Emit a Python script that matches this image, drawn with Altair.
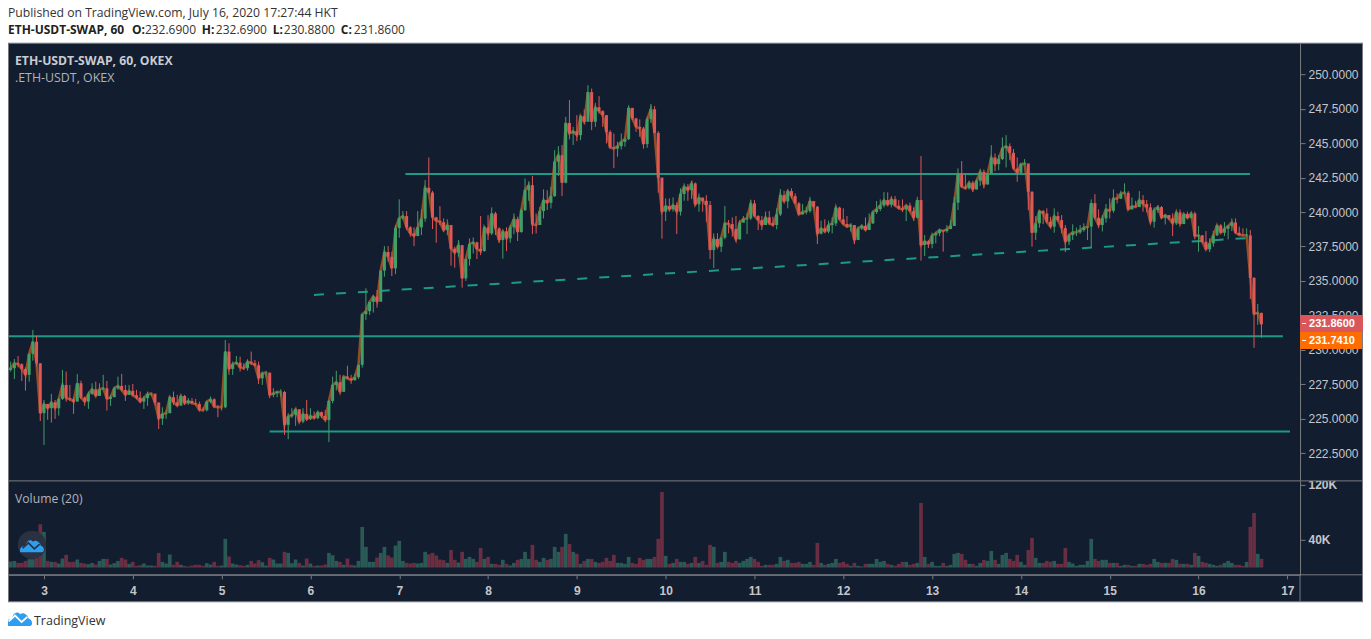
import altair as alt
import pandas as pd

# hourly candles, first one at 14:00 on the 2nd
closes = [
228.55,228.67,229.03,228.96,228.62,228.19,229.71,230.6,229.03,225.41,
226.08,225.77,226.2,225.77,226.45,227.46,226.5,226.42,226.25,227.58,
226.54,226.25,226.81,227.15,226.66,227.15,227.22,226.45,226.57,227.22,
227.39,227.1,226.74,227.03,226.71,226.54,226.25,226.5,226.81,226.83,
226.18,225.02,225.36,225.41,226.57,226.2,225.96,226.66,226.13,226.3,
226.13,226.08,225.65,225.63,226.25,226.42,225.89,225.84,225.84,229.88,
228.62,228.98,229.08,228.72,228.67,229.15,229.03,228.89,227.94,228.31,
228.35,226.74,226.86,226.95,226.95,224.56,225.19,225.29,225.7,224.8,
225.36,224.97,225.22,225.05,225.48,225.22,224.92,226.3,227.46,227.66,
226.96,228.07,227.93,227.81,228.02,228.92,232.59,232.81,233.48,233.87,
233.5,235.75,237.1,236.76,235.92,238.84,239.56,239.71,238.89,238.45,
238.26,238.89,239.52,241.76,241.42,239.61,239.37,239.27,238.69,239.06,
237.34,237.05,237.6,235.19,236.59,237.68,237.8,237.32,237.17,238.89,
238.45,239.9,238.82,237.97,238.6,238.09,238.89,239.49,238.55,240.14,
241.59,241.95,239.1,239.06,240.07,240.87,240.67,241.16,243.65,244.13,
242.13,246.47,245.7,245.87,245.58,246.96,246.55,248.7,246.55,247.6,
247.32,247.03,245.82,244.69,244.6,244.78,245.1,245.29,247.56,246.79,
246.18,246.06,244.93,246.74,247.46,245.75,242.49,240.03,240.44,240.2,
240.51,240.03,241.31,241.84,241.59,242.08,240.56,241.04,240.82,240.51,
237.25,238.05,237.49,238.14,239.18,239.13,238.77,238.02,239.23,239.5,
239.54,240.63,239.71,239.42,239.06,239.62,239.18,239.06,239.83,241.23,
240.77,241.52,241.16,240.63,239.83,240.0,240.07,240.8,240.39,238.43,
238.82,238.58,239.06,239.18,240.32,239.47,239.13,238.94,239.06,237.97,
238.82,239.0,238.7,239.18,240.0,240.22,240.48,240.87,240.53,240.94,
240.46,240.27,240.19,240.48,240.07,239.59,240.87,237.61,237.88,237.68,
238.31,238.46,238.7,238.62,238.77,238.99,240.68,242.8,241.84,241.72,
242.13,241.64,242.27,242.92,242.0,242.8,243.96,243.48,243.84,244.64,
244.78,244.3,243.16,242.85,243.48,243.53,241.47,238.5,239.18,240.07,
239.9,239.3,238.94,239.71,239.42,238.84,237.85,238.33,238.53,238.53,
238.7,238.87,238.94,240.65,239.59,239.06,239.54,240.19,240.1,240.99,
240.97,241.35,241.4,240.19,240.43,240.36,240.87,240.58,240.34,239.3,
240.15,240.36,239.59,239.78,239.54,239.18,239.98,239.13,239.86,239.57,
239.9,238.26,238.31,237.85,237.3,237.73,238.31,239.03,238.5,238.79,
238.99,239.25,238.5,238.33,238.31,238.31,235.22,232.61,232.69,231.86]

highs = [
228.79,229.15,229.34,229.56,229.03,228.74,229.75,231.45,231.01,229.03,
226.37,226.08,226.81,226.37,226.5,228.55,228.43,227.46,226.57,228.24,
227.77,226.62,226.98,227.58,227.7,227.58,228.19,227.75,226.74,227.34,
228.06,228.26,227.46,227.46,227.53,227.1,226.98,226.66,226.98,226.91,
226.81,226.2,225.84,225.6,226.66,226.98,226.74,226.74,226.74,226.5,
226.5,226.45,226.25,225.84,226.3,226.62,226.5,226.01,226.06,230.72,
230.48,229.15,229.56,229.51,229.03,229.32,229.88,229.27,229.15,228.43,
228.48,228.35,227.22,227.05,227.15,227.03,225.41,225.77,225.77,225.6,
225.77,226.37,225.77,225.53,225.6,225.53,225.65,226.37,228.06,228.48,
228.19,228.07,228.85,228.19,228.27,228.92,232.59,234.47,233.48,233.99,
234.35,235.75,237.53,237.53,237.13,239.06,240.92,240.07,240.07,238.98,
238.89,240.07,240.19,242.32,243.96,241.54,239.66,240.43,239.54,239.47,
239.06,237.49,237.97,237.6,236.64,238.09,238.16,237.85,239.71,238.98,
239.78,240.34,240.02,238.89,238.69,238.89,239.06,239.9,239.66,240.26,
242.44,242.24,242.63,239.9,240.38,241.64,241.59,241.83,244.49,244.78,
244.86,246.91,248.12,246.18,247.03,247.03,247.44,249.2,248.96,247.92,
248.41,247.39,247.03,245.94,245.7,245.1,245.7,245.41,247.75,247.54,
246.84,246.72,246.18,246.91,247.83,247.68,245.87,242.52,240.99,240.99,
241.07,240.7,241.72,242.08,242.03,242.25,242.15,241.35,241.07,241.23,
240.8,238.46,238.46,238.2,240.44,239.42,239.61,239.71,239.42,239.71,
239.95,240.87,240.87,239.78,239.71,240.03,240.07,239.66,240.27,241.67,
241.55,241.64,241.72,241.35,240.73,240.58,240.39,241.11,240.75,240.44,
239.37,239.47,239.37,239.61,240.44,240.39,240.27,239.71,239.18,239.06,
238.94,239.11,239.61,239.9,240.1,240.8,240.92,241.45,241.43,241.16,
241.16,240.87,240.92,240.51,240.68,240.34,241.11,244.06,238.33,237.97,
238.5,238.58,238.79,238.7,239.06,239.42,241.11,243.17,243.7,242.75,
242.27,242.27,242.37,243.09,243.09,242.85,244.85,244.25,244.13,245.41,
245.58,244.98,244.57,243.96,243.57,243.84,243.48,241.52,239.71,240.15,
240.15,240.27,239.66,240.27,240.03,239.78,239.06,238.46,239.11,238.87,
239.06,239.18,238.99,240.92,241.3,240.19,239.78,240.58,240.99,241.64,
241.35,241.55,242.08,241.52,241.06,240.82,241.52,241.23,240.87,240.63,
240.34,240.51,240.44,239.86,239.78,239.9,240.1,240.19,239.9,240.03,
240.03,240.03,238.99,238.33,238.62,238.09,238.65,239.08,239.13,239.28,
239.06,239.54,239.54,238.94,238.82,238.82,238.7,235.29,233.34,232.69]

lows = [
228.5,228.43,227.89,228.74,227.75,227.05,227.7,229.22,228.84,224.85,
223.11,224.93,224.73,225.0,225.24,226.37,226.25,226.3,225.36,226.37,
226.45,225.94,225.72,226.74,226.62,226.71,227.1,225.6,225.94,226.57,
227.1,226.98,226.3,226.74,226.62,226.42,226.13,225.72,225.94,226.66,
226.01,224.27,224.56,225.0,225.41,226.01,225.89,225.94,226.01,226.01,
226.06,225.96,225.53,225.53,225.53,226.13,225.77,225.12,225.6,225.77,
228.19,228.19,228.91,228.43,228.55,228.5,228.91,228.79,227.53,227.46,
228.06,226.5,226.57,226.57,226.62,223.84,223.52,225.05,224.49,224.68,
224.68,224.85,224.92,224.97,224.97,225.05,224.8,223.31,226.13,227.06,
226.86,226.96,227.9,227.54,227.76,227.9,228.72,232.18,232.54,232.71,
233.07,233.5,235.31,236.4,235.36,235.5,238.14,239.42,238.69,238.21,
237.53,238.26,238.33,239.3,241.35,238.77,237.78,239.06,238.57,238.33,
236.11,235.97,236.76,234.52,235.0,236.11,237.0,236.59,236.88,237.13,
237.97,238.33,238.33,237.78,236.62,237.17,237.78,238.4,237.9,238.5,
240.07,240.82,238.4,238.45,239.18,239.54,240.14,240.26,241.1,242.61,
241.16,242.08,245.27,244.86,245.15,245.22,246.38,246.6,245.94,246.18,
247.15,246.18,244.98,244.6,243.19,244.01,244.54,244.74,245.22,246.67,
245.82,245.46,244.6,244.66,246.47,245.7,241.4,238.07,239.35,240.03,
240.03,238.41,239.74,240.82,240.82,240.94,240.46,240.03,240.03,239.3,
236.6,235.94,237.42,237.1,238.02,238.46,238.21,237.85,238.02,239.3,
238.41,239.42,239.66,238.7,238.7,239.06,239.06,238.94,238.75,239.71,
240.73,240.27,240.99,240.58,239.83,239.83,239.83,239.95,240.27,237.68,
238.38,238.5,238.46,238.46,238.99,239.42,239.04,238.87,238.58,237.68,
237.97,238.7,238.65,238.7,239.13,239.86,240.07,240.34,240.48,240.34,
240.39,240.19,240.0,239.35,240.03,239.37,239.54,236.47,236.81,237.39,
237.37,237.73,238.26,237.13,238.5,238.75,238.99,240.15,241.76,241.64,
241.64,241.47,241.64,241.9,241.72,242.0,242.75,242.97,243.04,243.77,
243.24,243.77,243.09,242.2,242.8,243.4,240.15,237.49,237.97,238.87,
239.13,239.18,238.82,238.5,239.3,238.46,237.1,237.61,237.97,238.26,
238.41,238.58,237.97,237.44,239.47,238.82,238.6,239.23,239.54,239.95,
240.63,240.94,241.35,240.15,240.27,240.34,240.43,240.03,239.98,239.13,
238.87,239.95,239.49,239.1,239.42,238.26,239.06,239.13,239.18,239.52,
239.54,238.02,237.13,237.73,237.25,237.1,237.49,238.26,238.46,238.26,
238.02,238.62,238.41,238.29,238.26,238.21,233.7,230.15,231.82,230.88]

vols_k = [
29.9,8.7,9.6,6.7,6.7,9.6,12,12,14.5,62.7,
51.6,9.6,8.2,8.2,5.8,13,18.3,8.2,8.2,11.6,
6.7,5.8,4.8,6.7,4.3,9.6,12.5,12.5,4.3,6.3,
9.6,14,11.6,5.3,8.2,2.4,3.4,5.8,2.9,2.9,
2.4,21.2,8.2,5.8,18.8,3.9,8.2,3.9,2.4,1.4,
2.9,3.9,3.9,2.4,6.3,4.3,8.2,2.4,2.9,41.5,
15.9,5.8,4.3,3.4,2.4,3.9,9.6,5.8,10.6,7.7,
2.9,14,11.6,5.8,5.8,22.7,21.2,6.3,11.6,6.7,
2.9,13,5.8,2.4,2.9,2.9,4.3,21.2,17.8,9.6,
8.2,3.9,13,3.9,2.9,9.6,58.8,29.9,8.2,8.2,
14.5,21.2,29.9,17.4,14.5,31.8,38.6,9.6,6.7,5.8,
6.7,5.8,6.7,22.7,19.3,21.2,17.4,11.6,10.6,6.7,
25.5,11.1,7.2,22.7,12.5,15.4,12.5,8.2,28.4,12.5,
15.4,5.3,5.3,3.9,11.1,5.3,2.9,6.7,11.1,12.5,
22.7,12.5,32.8,11.1,8.2,14,11.1,12.5,29.9,22.7,
29.9,48.7,34.2,22.7,19.8,5.3,9.6,12.5,12.5,8.2,
6.7,8.2,14,9.6,18.3,6.7,6.7,5.3,15.4,6.7,
5.3,14,11.1,12.5,12.5,15.4,41.5,109.4,16.9,5.3,
6.7,12.5,8.2,8.2,5.3,6.7,15.4,6.7,9.6,3.9,
32.8,29.9,6.7,8.2,22.7,8.2,6.7,9.6,6.7,9.6,
12.5,15.4,12.5,8.2,2.4,3.9,3.9,3.9,5.3,15.4,
9.6,11.1,6.7,6.7,8.2,5.3,5.3,8.2,3.9,35.7,
6.7,3.9,5.3,6.7,12.5,6.7,8.2,5.3,2.4,6.7,
2.4,1.4,5.3,5.3,5.3,12.5,8.2,9.6,5.3,3.9,
2.4,5.3,8.2,8.2,3.9,5.3,6.7,93.5,15.4,5.3,
8.2,2.4,2.4,6.7,2.4,3.9,19.8,21.2,19.8,11.1,
5.3,5.3,2.4,6.7,11.1,9.6,24.1,11.1,5.3,18.3,
21.2,12.5,9.6,18.3,8.2,3.9,25.5,42.9,14,6.7,
6.7,9.6,8.2,9.6,5.3,5.3,28.4,8.2,5.8,2.4,
3.9,3.9,9.6,41.5,12.5,9.6,11.1,11.1,6.7,6.7,
6.7,2.4,3.9,3.9,2.4,2.4,5.3,5.3,3.9,5.3,
12.5,8.2,6.7,6.7,6.7,12.5,11.1,5.3,5.3,5.3,
3.9,21.2,16.9,8.2,6.7,5.3,3.9,2.4,3.9,6.7,
9.6,6.7,3.9,3.9,2.4,8.2,58.8,79,19.8,12.5]

first_open = 228.6
price_ticks = [222.5, 225, 227.5, 230, 232.5, 235, 237.5, 240, 242.5, 245, 247.5, 250]
day_ticks = list(range(3, 18))
vol_ticks = [40000, 120000]

# drawn levels: start day, end day, start price, end price
solid_x = [7.07, 2.6, 5.54]
solid_x2 = [16.58, 16.95, 17.03]
solid_y = [242.77, 231.0, 224.09]
dash_x, dash_x2, dash_y, dash_y2 = 6.04, 16.58, 233.99, 238.12

BG = "#131d30"
UP = "#429f68"
DOWN = "#df5757"
UP_V = "#2a5a55"
DOWN_V = "#6a2e42"
TEAL = "#1b9a85"
GREY = "#787b80"
LBL = "#c4c6ca"
W, H = 1356, 620
PLOT_W = 1293

n = len(closes)
assert n == len(highs) == len(lows) == len(vols_k)
opens = [first_open] + closes[:-1]
df = pd.DataFrame({
    "day": [3 + (i - 10) / 24 for i in range(n)],
    "open": opens, "close": closes, "high": highs, "low": lows,
    "vol": [v * 1000 for v in vols_k],
    "dir": ["up" if c >= o else "down" for o, c in zip(opens, closes)],
})

xs = alt.Scale(domain=[2.595, 17.143], range=[0, PLOT_W], nice=False, zero=False, padding=0)
ys = alt.Scale(domain=[220.5, 252.25], range=[473, 35], nice=False, zero=False, padding=0)
vs = alt.Scale(domain=[-10560, 125500], range=[567, 473], nice=False, zero=False, padding=0)
X = alt.X("day:Q", scale=xs, title=None, axis=alt.Axis(
    values=day_ticks, format="d", orient="bottom", offset=567 - H, grid=False,
    domainColor=GREY, tickColor=GREY, tickSize=4, labelColor=LBL, labelFont="Liberation Sans",
    labelFontSize=12, labelFontWeight="bold", labelPadding=7, labelOverlap=False, labelFlush=False))
Xn = alt.X("day:Q", scale=xs, title=None, axis=None)
Yn = lambda f: alt.Y(f, scale=ys, title=None, axis=None)
col = alt.Color("dir:N", legend=None, scale=alt.Scale(domain=["up", "down"], range=[UP, DOWN]))
colv = alt.Color("dir:N", legend=None, scale=alt.Scale(domain=["up", "down"], range=[UP_V, DOWN_V]))

base = alt.Chart(df)
price_axis = base.mark_line(opacity=0).encode(
    x=X,
    y=alt.Y("close:Q", scale=ys, title=None, axis=alt.Axis(
        values=price_ticks, format=".4f", orient="right", offset=PLOT_W - W, grid=False,
        domainColor=GREY, tickColor=GREY, tickSize=5, labelColor=LBL, labelFont="Liberation Sans",
        labelFontSize=12, labelPadding=3, labelOverlap=False, labelFlush=False)))
vol_bars = base.mark_bar(size=3.7, orient="vertical").encode(
    x=Xn,
    y=alt.Y("vol:Q", scale=vs, stack=None, title=None, axis=alt.Axis(
        values=vol_ticks, labelExpr="datum.value/1000 + 'K'", orient="right", offset=PLOT_W - W,
        grid=False, domainColor=GREY, tickColor=GREY, tickSize=5, labelColor=LBL,
        labelFont="Liberation Sans", labelFontSize=12, labelFontWeight="bold", labelPadding=3,
        labelOverlap=False, labelFlush=False)),
    color=colv)
index_line = base.mark_line(color="#c8621e", strokeWidth=2.6, opacity=0.7).encode(x=Xn, y=Yn("close:Q"))
wicks = base.mark_rule(strokeWidth=1).encode(
    x=Xn, y=Yn("low:Q"), y2="high:Q", color=col)
bodies = base.mark_bar(size=3, orient="vertical").encode(
    x=Xn, y=Yn("open:Q"), y2="close:Q", color=col)

solid = alt.Chart(pd.DataFrame({"day": solid_x, "day2": solid_x2, "p": solid_y})).mark_rule(
    color=TEAL, strokeWidth=2).encode(x=Xn, x2="day2:Q", y=Yn("p:Q"))
dashed = alt.Chart(pd.DataFrame({"day": [dash_x, dash_x2], "p": [dash_y, dash_y2]})).mark_line(
    color=TEAL, strokeWidth=2, strokeDash=[10, 12]).encode(x=Xn, y=Yn("p:Q"))


def rect(x0, x1, y0, y1, color):
    return alt.Chart(alt.Data(values=[{}])).mark_rect(color=color).encode(
        x=alt.value(x0), x2=alt.value(x1), y=alt.value(y0), y2=alt.value(y1))


def hline(x0, x1, y, color=GREY, w=1):
    return alt.Chart(alt.Data(values=[{}])).mark_rule(color=color, strokeWidth=w).encode(
        x=alt.value(x0), x2=alt.value(x1), y=alt.value(y))


def vline(x, y0, y1, color=GREY, w=1):
    return alt.Chart(alt.Data(values=[{}])).mark_rule(color=color, strokeWidth=w).encode(
        x=alt.value(x), y=alt.value(y0), y2=alt.value(y1))


def label(s, x, y, size=12, color="#222222", bold=False, font="Open Sans"):
    return alt.Chart(alt.Data(values=[{"t": s}])).mark_text(
        align="left", baseline="middle", fontSize=size, color=color, font=font,
        fontWeight="bold" if bold else "normal").encode(
        x=alt.value(x), y=alt.value(y), text="t:N")


CLOUD = "M-1,0.55 C-1.1,0.15 -0.8,0 -0.55,0 C-0.45,-0.5 -0.1,-0.6 0.1,-0.35 C0.3,-0.55 0.7,-0.3 0.75,0 C1.05,0.05 1.1,0.55 0.85,0.55 Z"
ZIG = "M-0.8,0.2 L-0.3,-0.25 L0.2,0.25 L0.65,-0.15"


def icon(path, x, y, size, color, filled=True, w=1.5):
    return alt.Chart(alt.Data(values=[{}])).mark_point(
        shape=path, filled=filled, opacity=1, color=color, strokeWidth=0 if filled else w).encode(
        x=alt.value(x), y=alt.value(y), size=alt.value(size))


layers = [
    price_axis, vol_bars, solid, dashed, index_line, wicks, bodies,
    # white page strips above and below the dark panel
    rect(-3, W + 3, -3, 35, "white"), rect(-3, W + 3, 594, H + 3, "white"),
    # the top of the 120K label is cut by the pane edge
    rect(PLOT_W + 1, W - 1, 462, 473, BG),
    # panel frame
    hline(0, W, 35), hline(0, W, 473), hline(0, W, 567), hline(0, W, 594),
    vline(0.5, 35, 594), vline(W - 0.5, 35, 594), vline(PLOT_W, 567, 594),
    # last-price tags
    rect(PLOT_W, W, 307, 324, "#d9575b"), rect(PLOT_W, W - 1, 324, 341, "#ff6d00"),
    hline(PLOT_W + 2, PLOT_W + 6, 315.5, "white"), hline(PLOT_W + 2, PLOT_W + 6, 332.5, "white"),
    label("231.8600", PLOT_W + 9, 316, 11, "white", True, "Liberation Sans"),
    label("231.7410", PLOT_W + 9, 333, 11, "white", True, "Liberation Sans"),
    # header
    label("Published on TradingView.com, July 16, 2020 17:27:44 HKT", 0, 5, 12.2, "#333333"),
    label("ETH-USDT-SWAP, 60", 0, 22, 12, "#222222", True),
    label("O:", 124, 22, 12, "#222222", True), label("232.6900", 137, 22, 12, "#333333"),
    label("H:", 194, 22, 12, "#222222", True), label("232.6900", 208, 22, 12, "#333333"),
    label("L:", 265, 22, 12, "#222222", True), label("230.8800", 276, 22, 12, "#333333"),
    label("C:", 333, 22, 12, "#222222", True), label("231.8600", 346, 22, 12, "#333333"),
    # pane legends
    label("ETH-USDT-SWAP, 60, OKEX", 7, 53, 12.2, "#c9ccd2", True),
    label(".ETH-USDT, OKEX", 7, 70, 12.4, "#b0b3ba"),
    label("Volume (20)", 7, 491, 12.2, "#b0b3ba"),
    # logos
    alt.Chart(alt.Data(values=[{}])).mark_point(shape="circle", filled=True, color="#2a3140", opacity=1, strokeWidth=0).encode(
        x=alt.value(24), y=alt.value(537), size=alt.value(804)),
    icon(CLOUD, 24, 538, 560, "#2e9ef0"),
    icon(ZIG, 24, 538, 560, "#2a3140", False, 1.6),
    icon(CLOUD, 11, 611, 676, "#2e9ef0"),
    icon(ZIG, 11, 611, 676, "white", False, 1.8),
    label("TradingView", 26, 613, 12.5, "#333333"),
]

chart = alt.layer(*layers).resolve_scale(y="independent", x="shared", color="independent").resolve_axis(x="independent").properties(
    width=W, height=H, padding=0, autosize=alt.AutoSizeParams(type="none"),
    background="white",
).configure_view(fill=BG, stroke=None)

chart.save("out.html", embed_options={"renderer": "svg", "actions": False})
